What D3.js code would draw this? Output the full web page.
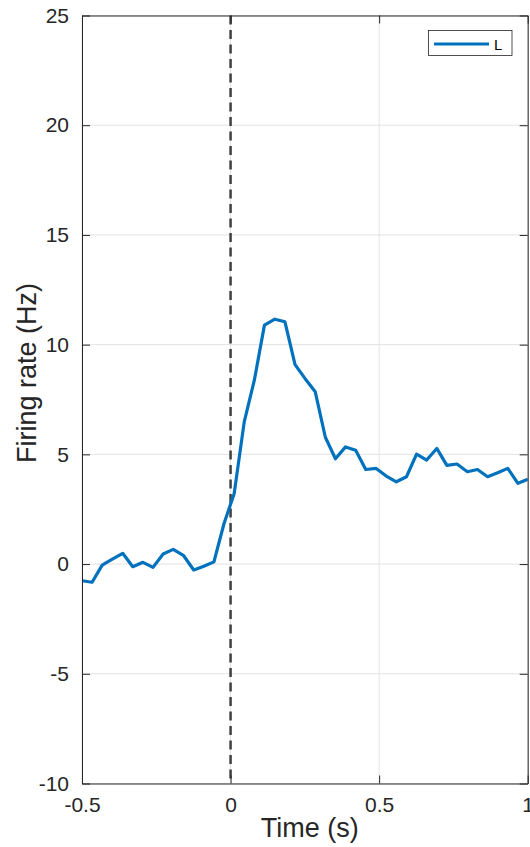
<!DOCTYPE html>
<html>
<head>
<meta charset="utf-8">
<script src="https://cdn.jsdelivr.net/npm/d3@7"></script>
<style>
  html, body { margin: 0; padding: 0; background: #fff; }
  svg { display: block; font-family: "Liberation Sans", Arial, Helvetica, sans-serif; }
</style>
</head>
<body>
<svg id="chart" width="530" height="847"></svg>
<script>
// Peri-event firing rate, single condition "L"
const times = [
  -0.500, -0.466, -0.432, -0.398, -0.363, -0.329, -0.295, -0.261, -0.227, -0.193,
  -0.159, -0.124, -0.090, -0.056, -0.022, 0.012, 0.046, 0.080, 0.114, 0.149,
  0.183, 0.217, 0.251, 0.285, 0.319, 0.353, 0.387, 0.421, 0.455, 0.490,
  0.524, 0.558, 0.592, 0.626, 0.660, 0.694, 0.728, 0.762, 0.797, 0.831,
  0.865, 0.899, 0.933, 0.967, 1.001
];
const rateL = [
  -0.76, -0.83, -0.05, 0.22, 0.49, -0.12, 0.08, -0.15, 0.46, 0.67,
  0.40, -0.27, -0.10, 0.10, 1.85, 3.20, 6.48, 8.38, 10.89, 11.16,
  11.04, 9.09, 8.45, 7.85, 5.78, 4.80, 5.34, 5.19, 4.31, 4.36,
  4.01, 3.75, 3.98, 5.01, 4.74, 5.27, 4.50, 4.56, 4.21, 4.31,
  3.98, 4.16, 4.36, 3.68, 3.87
];
const xTicks = [-0.5, 0, 0.5, 1];
const yTicks = [-10, -5, 0, 5, 10, 15, 20, 25];
const xDomain = [-0.5, 1];
const yDomain = [-10, 25];
const eventTime = 0;
const legendLabel = "L";

const ink = "#262626";
const blue = "#0072BD";
const plotL = 82, plotT = 15.5, plotR = 527.7, plotB = 783.5;

const svg = d3.select("#chart");
const x = d3.scaleLinear().domain(xDomain).range([plotL, plotR]);
const y = d3.scaleLinear().domain(yDomain).range([plotB, plotT]);

// Plain hyphen for negative tick labels
const fmt = d => String(d);

// Grid
const grid = svg.append("g").attr("stroke", "#e3e3e3").attr("stroke-width", 1);
grid.selectAll(".gx").data(xTicks).join("line")
  .attr("x1", d => x(d)).attr("x2", d => x(d))
  .attr("y1", plotT).attr("y2", plotB);
grid.selectAll(".gy").data(yTicks).join("line")
  .attr("x1", plotL).attr("x2", plotR)
  .attr("y1", d => y(d)).attr("y2", d => y(d));

// Clip region for data
svg.append("clipPath").attr("id", "plotclip")
  .append("rect").attr("x", plotL).attr("y", plotT)
  .attr("width", plotR - plotL).attr("height", plotB - plotT);

// Event marker
svg.append("line")
  .attr("x1", x(eventTime)).attr("x2", x(eventTime))
  .attr("y1", plotT).attr("y2", plotB)
  .attr("stroke", "#404040").attr("stroke-width", 2.5)
  .attr("stroke-dasharray", "9,5.5");

// Rate trace
const line = d3.line().x((d, i) => x(times[i])).y(d => y(d));
svg.append("path")
  .datum(rateL)
  .attr("clip-path", "url(#plotclip)")
  .attr("fill", "none")
  .attr("stroke", blue)
  .attr("stroke-width", 3.2)
  .attr("stroke-linejoin", "round")
  .attr("d", line);

// Axes (inward ticks on all sides, box)
const tickLen = 8;
const axB = d3.axisBottom(x).tickValues(xTicks).tickSizeInner(-tickLen).tickSizeOuter(0)
  .tickPadding(14).tickFormat(fmt);
const axT = d3.axisTop(x).tickValues(xTicks).tickSizeInner(-tickLen).tickSizeOuter(0).tickFormat("");
const axL = d3.axisLeft(y).tickValues(yTicks).tickSizeInner(-tickLen).tickSizeOuter(0)
  .tickPadding(13).tickFormat(fmt);
const axR = d3.axisRight(y).tickValues(yTicks).tickSizeInner(-tickLen).tickSizeOuter(0).tickFormat("");

function style(g) {
  g.select(".domain").attr("stroke", ink).attr("stroke-width", 1);
  g.selectAll(".tick line").attr("stroke", ink).attr("stroke-width", 1);
  g.selectAll(".tick text").attr("fill", ink).style("font-size", "21px")
    .style("font-family", "'Liberation Sans', Arial, sans-serif");
}
svg.append("g").attr("transform", `translate(0,${plotB})`).call(axB).call(style);
svg.append("g").attr("transform", `translate(0,${plotT})`).call(axT).call(style);
svg.append("g").attr("transform", `translate(${plotL},0)`).call(axL).call(style);
svg.append("g").attr("transform", `translate(${plotR},0)`).call(axR).call(style);

// Axis titles
svg.append("text")
  .attr("x", (plotL + plotR) / 2 + 5).attr("y", 837)
  .attr("text-anchor", "middle").attr("fill", ink)
  .style("font-size", "27px")
  .text("Time (s)");
svg.append("text")
  .attr("transform", `translate(36,${373}) rotate(-90)`)
  .attr("text-anchor", "middle").attr("fill", ink)
  .style("font-size", "27px")
  .text("Firing rate (Hz)");

// Legend
const lg = svg.append("g");
lg.append("rect").attr("x", 428.5).attr("y", 30.5).attr("width", 83.5).attr("height", 25)
  .attr("fill", "#fff").attr("stroke", ink).attr("stroke-width", 0.8);
lg.append("line").attr("x1", 434).attr("x2", 489).attr("y1", 44).attr("y2", 44)
  .attr("stroke", blue).attr("stroke-width", 3.2);
lg.append("text").attr("x", 494).attr("y", 49.5).attr("fill", "#000")
  .style("font-size", "15px").text(legendLabel);
</script>
</body>
</html>
